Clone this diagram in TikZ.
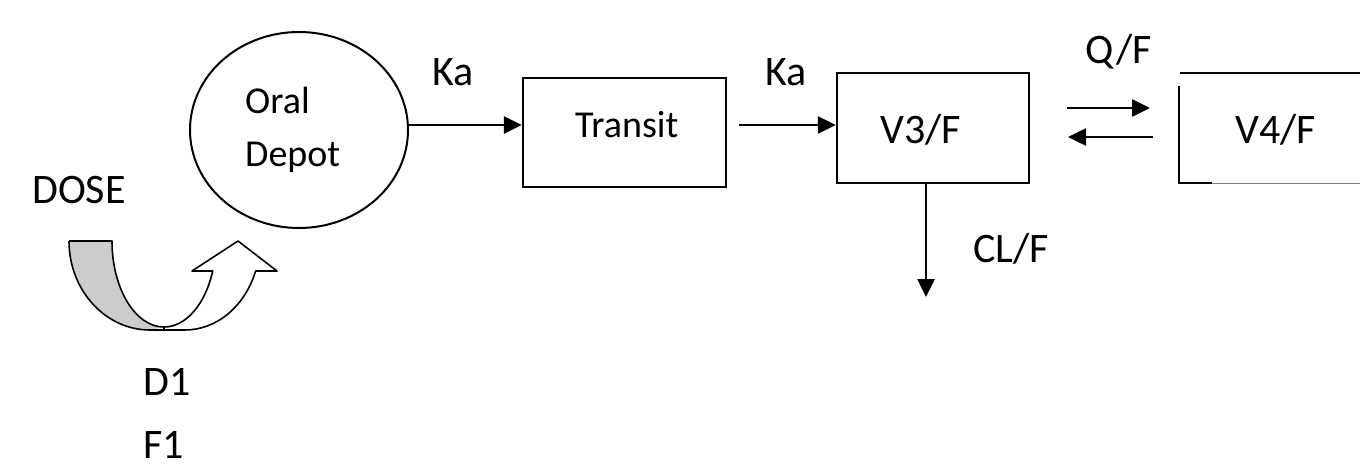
\documentclass[tikz,border=0pt]{standalone}
\usepackage{fontspec}
\setmainfont{Carlito}
\usetikzlibrary{arrows.meta,shapes.geometric,calc}
\begin{document}
\begin{tikzpicture}[x=1pt,y=-1pt,
  lbl/.style={font=\fontsize{42}{50}\selectfont, inner sep=0pt, anchor=base west},
  inlbl/.style={font=\fontsize{38}{46}\selectfont, inner sep=0pt, anchor=base west},
  compartment/.style={draw, line width=2.4pt, inner sep=0pt},
  flow/.style={line width=2.6pt, -{Triangle[length=18pt,width=17pt]}},
  uarrow/.style={draw, line width=1.6pt, line join=round},
]
\useasboundingbox (0,0) rectangle (1360,471);

% oral depot compartment
\node[draw, ellipse, line width=2pt, minimum width=218pt, minimum height=196pt, inner sep=0pt] (depot) at (299,130) {};
\node[inlbl] (oral) at (245,113) {Oral};
\node[inlbl] (depotlbl) at (245,166) {Depot};

% transit compartment
\node[compartment, minimum width=203pt, minimum height=109pt] (transit) at (624.5,132.5) {};
\node[inlbl] (transitlbl) at (575,137) {Transit};

% central compartment
\node[compartment, minimum width=192pt, minimum height=110pt] (v3) at (933,128) {};
\node[lbl] (v3lbl) at (880,143) {V3/F};

% peripheral compartment (open on the right)
\draw[line width=2.4pt] (1180,73) -- (1360,73);
\draw[line width=2.4pt] (1179,86) -- (1179,183) -- (1212,183);
\draw[line width=1.2pt, gray] (1212,183.5) -- (1360,183.5);
\node[lbl] (v4) at (1235,143) {V4/F};

% absorption
\coordinate (k1a) at (408,125);
\draw[flow] (k1a) -- (k1a -| transit.west);
\node[lbl] (ka1) at (432,85) {Ka};
\coordinate (k2a) at (739,125);
\draw[flow] (k2a) -- (k2a -| v3.west);
\node[lbl] (ka2) at (765,85) {Ka};

% elimination
\coordinate (clend) at (926,297);
\draw[flow] (clend |- v3.south) -- (clend);
\node[lbl] (clf) at (973,262) {CL/F};

% inter-compartmental exchange
\coordinate (q1a) at (1067,108);
\coordinate (q1b) at (1150,108);
\coordinate (q2a) at (1153,137);
\coordinate (q2b) at (1068,137);
\draw[flow] (q1a) -- (q1b);
\draw[flow] (q2a) -- (q2b);
\node[lbl] (qf) at (1085,63) {Q/F};

% dosing: curved up-arrow into the depot
\fill[gray!40] (69,241) -- (112,241)
  arc[start angle=180, end angle=90, x radius=52, y radius=86]
  -- (150,330)
  arc[start angle=90, end angle=180, x radius=81, y radius=89] -- cycle;
\draw[uarrow] (69,241) -- (112,241)
  arc[start angle=180, end angle=90, x radius=52, y radius=86];
\draw[uarrow] (69,241)
  arc[start angle=180, end angle=90, x radius=81, y radius=89] -- (185,330);
\draw[uarrow, fill=white] (164,327)
  arc[start angle=90, end angle=20.4, x radius=52, y radius=86]
  -- (192,271) -- (238,241) -- (277,271) -- (255.6,271)
  arc[start angle=19.7, end angle=90, x radius=75, y radius=89]
  -- (164,330) -- cycle;

\node[lbl] (dose) at (32,203) {DOSE};
\node[lbl] (d1) at (143,395) {D1};
\node[lbl] (f1) at (143,458) {F1};
\end{tikzpicture}
\end{document}
